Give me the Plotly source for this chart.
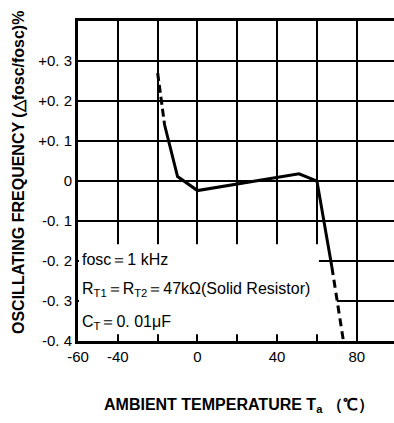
import plotly.graph_objects as go

# Data
temp = [-20, -16.5, -10, 0, 51, 60, 67.5, 73.3]          # ambient temperature (°C)
dev = [0.27, 0.14, 0.011, -0.024, 0.018, 0.0, -0.215, -0.4]  # Δfosc/fosc (%)
dash_start = (0, 2)   # first dashed segment
solid_part = (1, 7)   # solid portion
dash_end = (6, 8)     # final dashed segment

x_grid = [-60, -40, -20, 0, 20, 40, 60, 80]
x_labels = ["-60", "-40", "", "0", "", "40", "", "80"]
y_grid = [-0.4, -0.3, -0.2, -0.1, 0, 0.1, 0.2, 0.3]
y_labels = ["-0. 4", "-0. 3", "-0. 2", "-0. 1", "0", "+0. 1", "+0. 2", "+0. 3"]

notes = ["fosc＝1 kHz",
         "R<sub>T1</sub>＝R<sub>T2</sub>＝47kΩ(Solid Resistor)",
         "C<sub>T</sub>＝0. 01μF"]
note_y = [-0.195, -0.272, -0.354]

FONT = "Liberation Sans, Arial, sans-serif"

fig = go.Figure()
fig.add_trace(go.Scatter(x=temp[dash_start[0]:dash_start[1]], y=dev[dash_start[0]:dash_start[1]],
                         mode="lines", line=dict(color="black", width=3, dash="8px,4px"),
                         showlegend=False, hoverinfo="skip"))
fig.add_trace(go.Scatter(x=temp[solid_part[0]:solid_part[1]], y=dev[solid_part[0]:solid_part[1]],
                         mode="lines", line=dict(color="black", width=3),
                         showlegend=False, hoverinfo="skip"))
fig.add_trace(go.Scatter(x=temp[dash_end[0]:dash_end[1]], y=dev[dash_end[0]:dash_end[1]],
                         mode="lines", line=dict(color="black", width=3, dash="8px,5px"),
                         showlegend=False, hoverinfo="skip"))

# white areas that hide grid behind the condition text (grid stubs remain at bottom as ticks)
fig.add_shape(type="rect", xref="x", yref="y", x0=-59.5, x1=61, y0=-0.383, y1=-0.158,
              fillcolor="white", line=dict(width=0), layer="between")
fig.add_shape(type="rect", xref="x", yref="y", x0=61, x1=70, y0=-0.33, y1=-0.27,
              fillcolor="white", line=dict(width=0), layer="between")

for t, yv in zip(notes, note_y):
    fig.add_annotation(x=-59, y=yv, xref="x", yref="y", text=t, showarrow=False,
                       xanchor="left", yanchor="middle",
                       font=dict(family=FONT, size=16, color="black"))

fig.add_annotation(x=-0.19, y=0.528, xref="paper", yref="paper",
                   text="<b>OSCILLATING FREQUENCY (△fosc/fosc)%</b>",
                   textangle=-90, showarrow=False, xanchor="center", yanchor="middle",
                   font=dict(family=FONT, size=16, color="black"))
fig.add_annotation(x=0.51, y=-0.2, xref="paper", yref="paper",
                   text="<b>AMBIENT TEMPERATURE T<sub>a</sub> （℃）</b>",
                   showarrow=False, xanchor="center", yanchor="middle",
                   font=dict(family=FONT, size=16, color="black"))

fig.update_xaxes(range=[-60, 98.7], tickvals=x_grid, ticktext=x_labels,
                 showgrid=True, gridcolor="black", gridwidth=1.5,
                 showline=True, linecolor="black", linewidth=3, mirror=True,
                 ticks="", zeroline=False,
                 tickfont=dict(family=FONT, size=15, color="black"))
fig.update_yaxes(range=[-0.4, 0.4], tickvals=y_grid, ticktext=y_labels,
                 showgrid=True, gridcolor="black", gridwidth=1.5,
                 showline=True, linecolor="black", linewidth=3,
                 ticks="", zeroline=False,
                 tickfont=dict(family=FONT, size=15, color="black"))

fig.update_layout(width=394, height=423, margin=dict(l=78, r=0, t=21, b=82),
                  paper_bgcolor="white", plot_bgcolor="white")

fig.write_html("out.html")
